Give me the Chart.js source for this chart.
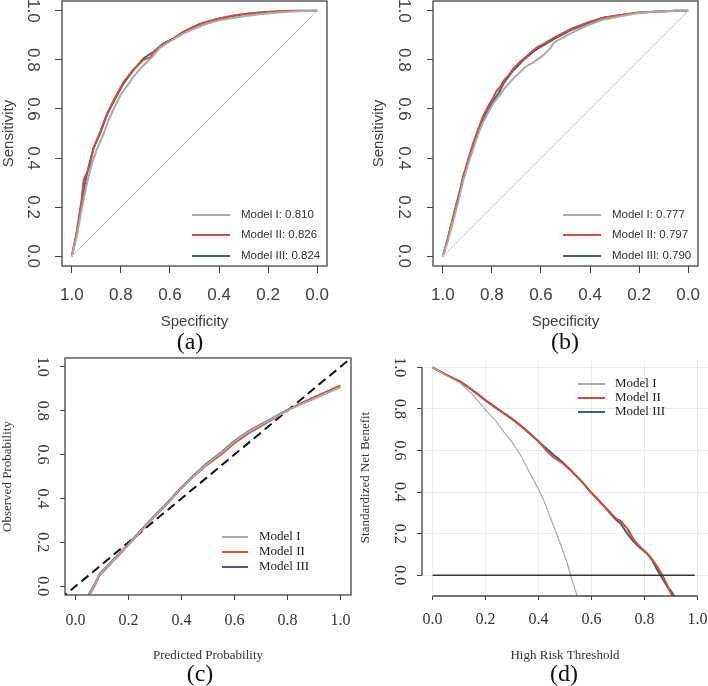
<!DOCTYPE html>
<html>
<head>
<meta charset="utf-8">
<script src="https://cdn.jsdelivr.net/npm/chart.js@4.4.1/dist/chart.umd.min.js"></script>
<style>
  html, body { margin: 0; padding: 0; background: #fff; }
  #wrap { position: relative; width: 708px; height: 686px; overflow: hidden; }
  canvas { position: absolute; }
</style>
</head>
<body>
<div id="wrap">
  <canvas id="rocA" width="354" height="360" style="left:0;top:0"></canvas>
  <canvas id="rocB" width="354" height="360" style="left:354px;top:0"></canvas>
  <canvas id="calC" width="354" height="334" style="left:0;top:352px"></canvas>
  <canvas id="dcaD" width="354" height="334" style="left:354px;top:352px"></canvas>
</div>
<script>
const models = ['Model I', 'Model II', 'Model III'];
const aucA = ['0.810', '0.826', '0.824'];
const aucB = ['0.777', '0.797', '0.790'];
const unitTicks = [0, 0.2, 0.4, 0.6, 0.8, 1.0];

// (a) ROC
const specA1 = [1.0, 0.98, 0.96, 0.94, 0.92, 0.90, 0.87, 0.85, 0.82, 0.80, 0.77, 0.75, 0.72, 0.70, 0.67, 0.64, 0.60, 0.55, 0.50, 0.45, 0.40, 0.30, 0.20, 0.10, 0.0];
const sensA1 = [0.0, 0.08, 0.19, 0.29, 0.37, 0.43, 0.50, 0.555, 0.62, 0.66, 0.70, 0.73, 0.765, 0.785, 0.815, 0.85, 0.875, 0.905, 0.928, 0.947, 0.961, 0.978, 0.99, 0.997, 1.0];
const specA2 = [1.0, 0.98, 0.96, 0.952, 0.93, 0.91, 0.885, 0.857, 0.823, 0.789, 0.749, 0.708, 0.68, 0.667, 0.626, 0.586, 0.545, 0.477, 0.409, 0.341, 0.273, 0.205, 0.11, 0.0];
const sensA2 = [0.0, 0.10, 0.23, 0.31, 0.36, 0.445, 0.505, 0.58, 0.648, 0.71, 0.76, 0.80, 0.81, 0.83, 0.865, 0.888, 0.915, 0.948, 0.967, 0.981, 0.99, 0.995, 1.0, 1.0];
const specA3 = [1.0, 0.98, 0.96, 0.946, 0.93, 0.912, 0.885, 0.857, 0.823, 0.789, 0.749, 0.708, 0.667, 0.626, 0.586, 0.545, 0.477, 0.409, 0.341, 0.273, 0.205, 0.11, 0.0];
const sensA3 = [0.0, 0.09, 0.215, 0.30, 0.37, 0.44, 0.50, 0.575, 0.643, 0.704, 0.758, 0.806, 0.833, 0.867, 0.887, 0.912, 0.946, 0.966, 0.98, 0.989, 0.995, 0.999, 1.0];

// (b) ROC
const specB1 = [1.0, 0.98, 0.956, 0.935, 0.916, 0.895, 0.875, 0.855, 0.834, 0.813, 0.793, 0.772, 0.752, 0.73, 0.712, 0.69, 0.671, 0.65, 0.63, 0.61, 0.589, 0.56, 0.548, 0.5, 0.45, 0.412, 0.344, 0.276, 0.208, 0.14, 0.05, 0.0];
const sensB1 = [0.0, 0.06, 0.15, 0.23, 0.31, 0.38, 0.44, 0.50, 0.55, 0.59, 0.625, 0.65, 0.68, 0.705, 0.725, 0.745, 0.765, 0.78, 0.79, 0.805, 0.82, 0.85, 0.87, 0.897, 0.922, 0.94, 0.965, 0.978, 0.99, 0.996, 1.0, 1.0];
const specB2 = [1.0, 0.98, 0.956, 0.935, 0.916, 0.895, 0.875, 0.855, 0.834, 0.813, 0.793, 0.78, 0.766, 0.752, 0.73, 0.712, 0.69, 0.671, 0.65, 0.63, 0.61, 0.589, 0.548, 0.48, 0.412, 0.344, 0.276, 0.208, 0.14, 0.05, 0.0];
const sensB2 = [0.0, 0.07, 0.17, 0.25, 0.33, 0.40, 0.465, 0.52, 0.575, 0.615, 0.65, 0.675, 0.69, 0.715, 0.74, 0.765, 0.787, 0.805, 0.823, 0.84, 0.855, 0.865, 0.89, 0.925, 0.952, 0.973, 0.983, 0.992, 0.996, 1.0, 1.0];
const specB3 = [1.0, 0.98, 0.956, 0.935, 0.916, 0.895, 0.875, 0.855, 0.834, 0.813, 0.793, 0.772, 0.752, 0.73, 0.712, 0.69, 0.671, 0.65, 0.63, 0.61, 0.589, 0.548, 0.48, 0.412, 0.344, 0.276, 0.208, 0.14, 0.05, 0.0];
const sensB3 = [0.0, 0.07, 0.16, 0.24, 0.323, 0.39, 0.455, 0.51, 0.56, 0.60, 0.635, 0.665, 0.705, 0.735, 0.758, 0.78, 0.80, 0.818, 0.834, 0.848, 0.86, 0.885, 0.92, 0.948, 0.972, 0.982, 0.992, 0.996, 1.0, 1.0];

// (c) calibration
const predC = [0.047, 0.07, 0.091, 0.15, 0.205, 0.25, 0.299, 0.35, 0.394, 0.45, 0.495, 0.55, 0.596, 0.65, 0.70, 0.75, 0.798, 0.85, 0.899, 0.95, 1.0];
const obsC1 = [-0.046, 0.002, 0.053, 0.127, 0.197, 0.257, 0.32, 0.382, 0.441, 0.507, 0.556, 0.607, 0.655, 0.702, 0.735, 0.768, 0.80, 0.829, 0.854, 0.881, 0.908];
const obsC2 = [-0.05, -0.002, 0.05, 0.125, 0.195, 0.255, 0.318, 0.38, 0.44, 0.505, 0.552, 0.60, 0.648, 0.695, 0.73, 0.765, 0.80, 0.833, 0.86, 0.888, 0.915];
const obsC3 = [-0.043, 0.005, 0.056, 0.13, 0.20, 0.26, 0.323, 0.385, 0.444, 0.51, 0.559, 0.61, 0.658, 0.705, 0.738, 0.77, 0.802, 0.83, 0.855, 0.882, 0.909];
const refLine = [-0.1, 1.1];

// (d) decision curve
const thrD1 = [0, 0.05, 0.105, 0.15, 0.206, 0.24, 0.269, 0.30, 0.332, 0.36, 0.395, 0.42, 0.458, 0.48, 0.508, 0.521, 0.546];
const nbD1 = [1.0, 0.962, 0.923, 0.87, 0.787, 0.74, 0.69, 0.64, 0.578, 0.51, 0.425, 0.36, 0.233, 0.16, 0.06, 0.0, -0.1];
const thrD2 = [0, 0.05, 0.105, 0.15, 0.206, 0.25, 0.306, 0.35, 0.401, 0.43, 0.458, 0.49, 0.521, 0.56, 0.596, 0.63, 0.66, 0.69, 0.71, 0.735, 0.76, 0.785, 0.811, 0.83, 0.849, 0.868, 0.885, 0.895, 0.905];
const nbD2 = [1.0, 0.965, 0.93, 0.892, 0.837, 0.797, 0.748, 0.702, 0.643, 0.60, 0.565, 0.54, 0.505, 0.455, 0.402, 0.357, 0.316, 0.275, 0.262, 0.225, 0.17, 0.135, 0.104, 0.075, 0.04, 0.0, -0.045, -0.075, -0.1];
const thrD3 = [0, 0.05, 0.105, 0.15, 0.206, 0.25, 0.306, 0.35, 0.401, 0.43, 0.458, 0.49, 0.521, 0.56, 0.596, 0.63, 0.66, 0.69, 0.71, 0.735, 0.76, 0.785, 0.811, 0.83, 0.849, 0.87, 0.887, 0.90, 0.912];
const nbD3 = [1.0, 0.965, 0.931, 0.89, 0.835, 0.795, 0.746, 0.70, 0.642, 0.61, 0.578, 0.545, 0.506, 0.455, 0.401, 0.355, 0.313, 0.27, 0.249, 0.20, 0.161, 0.13, 0.104, 0.07, 0.024, -0.02, -0.056, -0.075, -0.1];
const noneX = [0, 0.99];
const noneY = [0, 0];

const colGray = '#aaaaaa', colRed = '#c65140', colBlue = '#4d5a7c';
const SANS = "'Liberation Sans', Arial, sans-serif";
const NARROW = "'Liberation Sans Narrow', 'Liberation Sans', Arial, sans-serif";
const SERIF = "'Liberation Serif', 'Times New Roman', serif";

function pts(xs, ys) {
  return xs.map((x, i) => ({ x: x, y: ys[i] }));
}

function line(label, xs, ys, color, width, dash) {
  return {
    label: label, data: pts(xs, ys), showLine: true, borderColor: color,
    borderWidth: width, borderDash: dash || [], pointRadius: 0, tension: 0
  };
}

// one linear axis, sized by hand so the plot box sits where the figure has it
function axis(o) {
  const isX = o.isX;
  return {
    type: 'linear', min: o.min, max: o.max, reverse: !!o.reverse, bounds: 'data',
    afterBuildTicks: (s) => { s.ticks = unitTicks.map(v => ({ value: v })); },
    afterFit: (s) => {
      if (isX) s.height = o.size; else s.width = o.size;
      s.paddingLeft = 0; s.paddingRight = 0; s.paddingTop = 0; s.paddingBottom = 0;
    },
    border: { display: false },
    grid: {
      drawOnChartArea: !!o.grid, color: '#ebebeb', lineWidth: 1,
      drawTicks: true, tickLength: o.tl, tickColor: '#444', tickWidth: 1
    },
    ticks: {
      autoSkip: false, padding: o.pad, color: o.color,
      font: { family: o.tickFamily, size: o.tickSize },
      minRotation: isX ? 0 : -90, maxRotation: isX ? 0 : -90,
      crossAlign: isX ? 'near' : 'center',
      callback: (v) => Number(v).toFixed(1)
    },
    title: {
      display: true, text: o.title, color: o.color,
      font: { family: o.titleFamily, size: o.titleSize },
      padding: { top: o.titlePad || 0, bottom: 0 }
    }
  };
}

function deco(opt) {
  return {
    id: 'deco',
    afterDraw(chart) {
      const { ctx, chartArea: a, scales } = chart;
      ctx.save();
      ctx.strokeStyle = '#444';
      ctx.lineWidth = 1.3;
      if (opt.box) {
        ctx.strokeRect(a.left, a.top, a.right - a.left, a.bottom - a.top);
      }
      if (opt.rAxes) {
        const x = scales.x, y = scales.y;
        ctx.beginPath();
        ctx.moveTo(a.left, y.getPixelForValue(0));
        ctx.lineTo(a.left, y.getPixelForValue(1));
        ctx.moveTo(x.getPixelForValue(0), a.bottom);
        ctx.lineTo(x.getPixelForValue(1), a.bottom);
        ctx.stroke();
      }
      const lg = opt.legend;
      ctx.font = lg.font;
      ctx.textBaseline = 'middle';
      ctx.textAlign = 'left';
      lg.items.forEach((it, i) => {
        ctx.strokeStyle = it.color;
        ctx.lineWidth = 2;
        ctx.beginPath();
        ctx.moveTo(lg.x0, lg.ys[i]);
        ctx.lineTo(lg.x1, lg.ys[i]);
        ctx.stroke();
        ctx.fillStyle = lg.color;
        ctx.fillText(it.text, lg.tx, lg.ys[i]);
      });
      ctx.font = '24px ' + SERIF;
      ctx.textAlign = 'center';
      ctx.fillStyle = '#111';
      ctx.fillText(opt.tag, opt.tagX, opt.tagY);
      ctx.restore();
    }
  };
}

function makeChart(id, datasets, x, y, padding, plugin) {
  return new Chart(document.getElementById(id), {
    type: 'scatter',
    data: { datasets: datasets },
    options: {
      responsive: false, animation: false, events: [],
      layout: { padding: padding },
      scales: { x: x, y: y },
      plugins: { legend: { display: false }, tooltip: { enabled: false } }
    },
    plugins: [plugin]
  });
}

const rocText = '#404040';
const serifText = '#333';

// (a)
makeChart('rocA', [
  line('diag', [1, 0], [0, 1], '#c8c8c8', 1),
  line(models[0], specA1, sensA1, colGray, 2),
  line(models[1], specA2, sensA2, colRed, 2),
  line(models[2], specA3, sensA3, colBlue, 2)
],
  axis({ isX: true, min: -0.04, max: 1.04, reverse: true, size: 65, tl: 7, pad: 12, color: rocText,
    tickFamily: NARROW, tickSize: 17, title: 'Specificity', titleFamily: SANS, titleSize: 15 }),
  axis({ isX: false, min: -0.04, max: 1.04, size: 62, tl: 7, pad: 10, color: rocText,
    tickFamily: NARROW, tickSize: 17, title: 'Sensitivity', titleFamily: SANS, titleSize: 15, titlePad: 0 }),
  { left: 0, right: 27, top: 1, bottom: 29 },
  deco({ box: true, tag: '(a)', tagX: 190, tagY: 343,
    legend: { font: '11.5px ' + SANS, color: '#333', x0: 192, x1: 230, tx: 241, ys: [215, 235, 256],
      items: [{ text: models[0] + ': ' + aucA[0], color: colGray }, { text: models[1] + ': ' + aucA[1], color: colRed }, { text: models[2] + ': ' + aucA[2], color: colBlue }] } })
);

// (b)
makeChart('rocB', [
  line('diag', [1, 0], [0, 1], '#c8c8c8', 1),
  line(models[0], specB1, sensB1, colGray, 2),
  line(models[1], specB2, sensB2, colRed, 2),
  line(models[2], specB3, sensB3, colBlue, 2)
],
  axis({ isX: true, min: -0.04, max: 1.04, reverse: true, size: 65, tl: 7, pad: 12, color: rocText,
    tickFamily: NARROW, tickSize: 17, title: 'Specificity', titleFamily: SANS, titleSize: 15 }),
  axis({ isX: false, min: -0.04, max: 1.04, size: 79, tl: 6, pad: 11, color: rocText,
    tickFamily: NARROW, tickSize: 17, title: 'Sensitivity', titleFamily: SANS, titleSize: 15, titlePad: 16 }),
  { left: 0, right: 10, top: 1, bottom: 29 },
  deco({ box: true, tag: '(b)', tagX: 211, tagY: 343,
    legend: { font: '11.5px ' + SANS, color: '#333', x0: 209, x1: 247, tx: 258, ys: [215, 235, 256],
      items: [{ text: models[0] + ': ' + aucB[0], color: colGray }, { text: models[1] + ': ' + aucB[1], color: colRed }, { text: models[2] + ': ' + aucB[2], color: colBlue }] } })
);

// (c)
makeChart('calC', [
  line(models[0], predC, obsC1, colGray, 2),
  line(models[1], predC, obsC2, colRed, 2),
  line(models[2], predC, obsC3, colBlue, 2),
  line('ideal', refLine, refLine, '#111', 2, [9, 5])
],
  axis({ isX: true, min: -0.04, max: 1.04, size: 68, tl: 5, pad: 11, color: serifText,
    tickFamily: SERIF, tickSize: 16, title: 'Predicted Probability', titleFamily: SERIF, titleSize: 13 }),
  axis({ isX: false, min: -0.04, max: 1.04, size: 65, tl: 5, pad: 8, color: serifText,
    tickFamily: SERIF, tickSize: 16, title: 'Observed Probability', titleFamily: SERIF, titleSize: 13, titlePad: 0 }),
  { left: 0, right: 3, top: 6, bottom: 23 },
  deco({ box: true, tag: '(c)', tagX: 200, tagY: 323,
    legend: { font: '13px ' + SERIF, color: '#222', x0: 222, x1: 248, tx: 259, ys: [185, 200, 215],
      items: [{ text: models[0], color: colGray }, { text: models[1], color: colRed }, { text: models[2], color: colBlue }] } })
);

// (d)
makeChart('dcaD', [
  line('None', noneX, noneY, '#333', 1.5),
  line(models[0], thrD1, nbD1, colGray, 1.2),
  line(models[1], thrD2, nbD2, colRed, 2),
  line(models[2], thrD3, nbD3, colBlue, 2)
],
  axis({ isX: true, min: -0.04, max: 1.04, size: 67, tl: 4, pad: 10, color: serifText, grid: true,
    tickFamily: SERIF, tickSize: 16, title: 'High Risk Threshold', titleFamily: SERIF, titleSize: 13 }),
  axis({ isX: false, min: -0.10, max: 1.04, size: 68, tl: 5, pad: 8, color: serifText, grid: true,
    tickFamily: SERIF, tickSize: 16, title: 'Standardized Net Benefit', titleFamily: SERIF, titleSize: 13, titlePad: 4 }),
  { left: 0, right: 0, top: 7, bottom: 23 },
  deco({ rAxes: true, tag: '(d)', tagX: 210, tagY: 323,
    legend: { font: '13px ' + SERIF, color: '#222', x0: 224, x1: 251, tx: 261, ys: [32, 46, 60],
      items: [{ text: models[0], color: colGray }, { text: models[1], color: colRed }, { text: models[2], color: colBlue }] } })
);
</script>
</body>
</html>
